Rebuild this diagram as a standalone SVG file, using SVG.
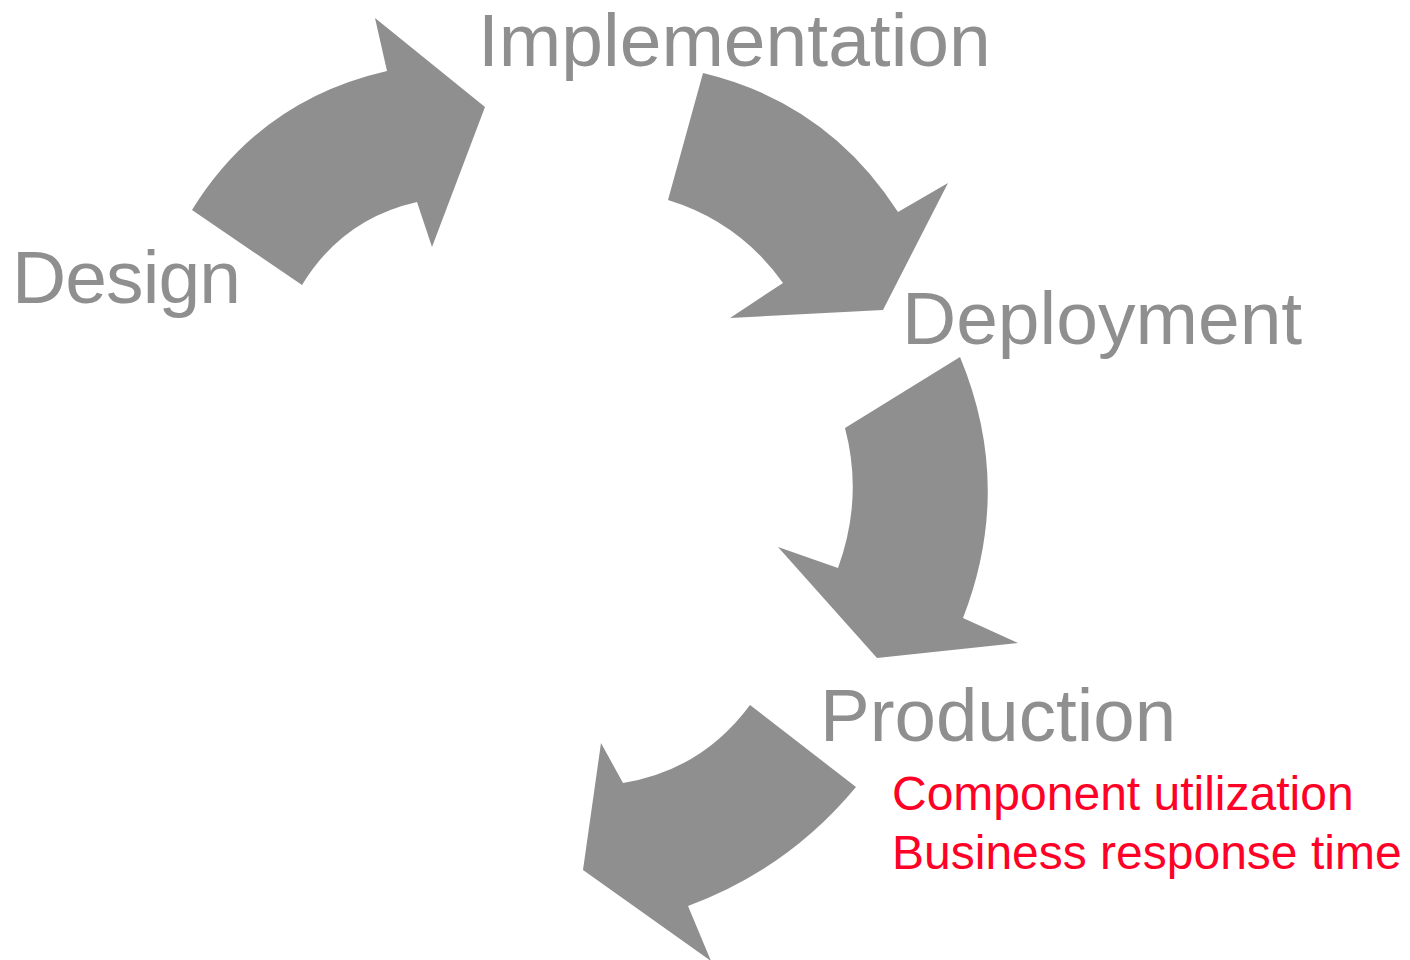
<svg xmlns="http://www.w3.org/2000/svg" width="1410" height="960" viewBox="0 0 1410 960">
<style>
.arrow{fill:#8f8f8f;stroke:none}
.label{font-family:"Liberation Sans",Arial,sans-serif;font-size:75px;fill:#8f8f8f}
.note{font-family:"Liberation Sans",Arial,sans-serif;font-size:48px;fill:#ff0026}
</style>
<rect width="1410" height="960" fill="#ffffff"/>
<g id="connectors">
<path id="arrow-design-implementation" class="arrow" d="M192,210 Q260,100 387,71 L375,18 L485,107 L432,247 L417,202 Q342,219 302,285 Z"/>
<path id="arrow-implementation-deployment" class="arrow" d="M703,73 Q828,103 898,212 L948,183 L883,310 L730,318 L783,283 Q739.5,222 668,200 Z"/>
<path id="arrow-deployment-production" class="arrow" d="M960,357 Q1014,487 963,618 L1018,643 L877,658 L778,547 L838,568 Q863.5,498 845,428 Z"/>
<path id="arrow-production-next" class="arrow" d="M750,705 L856,787 Q788,869 688,906 L711,961 L583,870 L601,743 L623,783 Q702,770 750,705 Z"/>
</g>
<g id="design"><text class="label" x="12" y="303" textLength="229">Design</text></g>
<g id="implementation"><text class="label" x="478" y="66">Implementation</text></g>
<g id="deployment"><text class="label" x="902" y="344">Deployment</text></g>
<g id="production">
<text class="label" x="820" y="741" style="font-size:74.5px">Production</text>
<text class="note" x="892" y="810">Component utilization</text>
<text class="note" x="892" y="869">Business response time</text>
</g>
</svg>
